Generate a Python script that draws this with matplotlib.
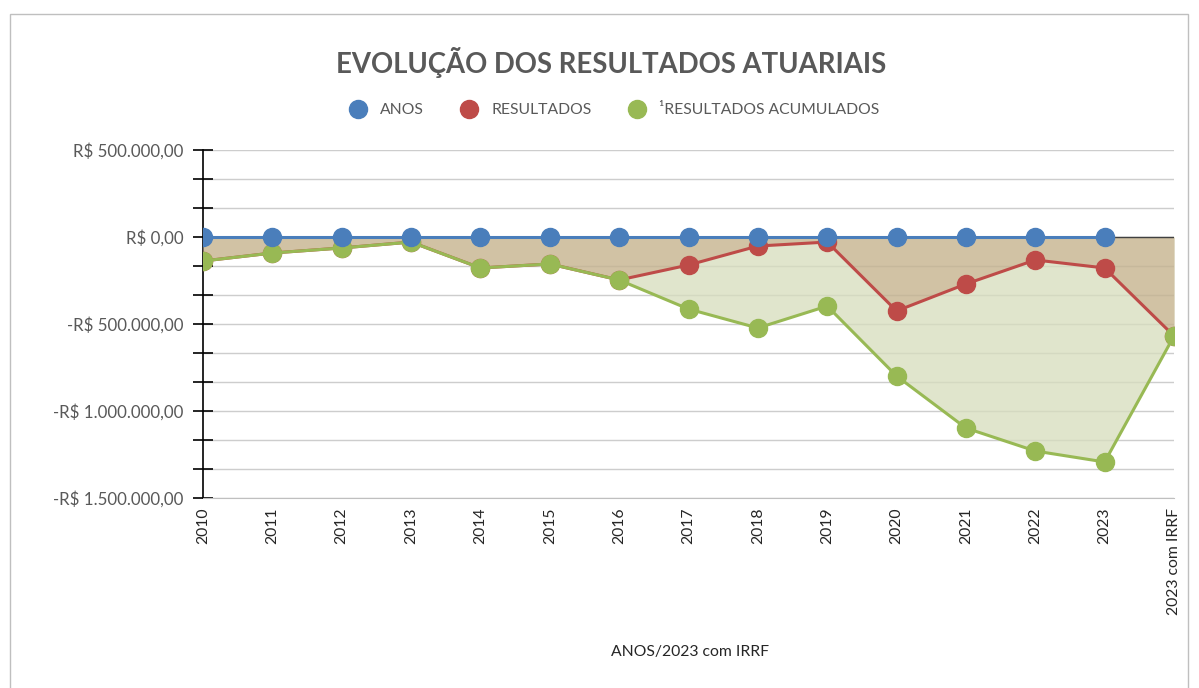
import matplotlib
matplotlib.use("Agg")
import matplotlib.pyplot as plt
from matplotlib.lines import Line2D
from matplotlib.patches import Rectangle
from matplotlib.ticker import FuncFormatter, MultipleLocator
import numpy as np

plt.rcParams['font.family'] = ['Lato', 'DejaVu Sans']

categories = ["2010", "2011", "2012", "2013", "2014", "2015", "2016", "2017",
              "2018", "2019", "2020", "2021", "2022", "2023", "2023 com IRRF"]
anos = [0, 0, 0, 0, 0, 0, 0, 0, 0, 0, 0, 0, 0, 0]
resultados = [-138000, -92000, -63000, -29000, -178000, -155000, -247000, -161000,
              -52000, -29000, -425000, -270000, -132000, -178000, -569000]
acumulados = [-138000, -92000, -63000, -29000, -178000, -155000, -247000, -414000,
              -523000, -397000, -799000, -1098000, -1230000, -1293000, -569000]
y_labels = {500000: "R$ 500.000,00", 0: "R$ 0,00", -500000: "-R$ 500.000,00",
            -1000000: "-R$ 1.000.000,00", -1500000: "-R$ 1.500.000,00"}

BLUE = "#4A7EBB"
RED = "#BE4B48"
GREEN = "#98B954"
TXT = "#595959"

fig = plt.figure(figsize=(11.99, 6.88), dpi=100)
ax = fig.add_axes([203/1199, 1-498/688, (1174-203)/1199, (498-150)/688])

x = np.arange(len(categories))
xa = np.arange(len(anos))

# areas
ax.fill_between(x, 0, acumulados, color="#E0E5CC", zorder=2, linewidth=0)
ax.fill_between(x, 0, resultados, color="#D1C2A4", zorder=3, linewidth=0)
ax.plot([x[0], x[-1]], [0, 0], color="#404040", lw=1.0, zorder=3.6)

ax.plot(x, resultados, color=RED, lw=2.2, marker='o', ms=13, mec=RED, zorder=4)
ax.plot(x, acumulados, color=GREEN, lw=2.2, marker='o', ms=13, mec=GREEN, zorder=5)
ax.plot(xa, anos, color=BLUE, lw=2.2, marker='o', ms=13, mec=BLUE, zorder=6)

ax.set_xlim(0, len(categories)-1)
ax.set_ylim(-1500000, 500000)

ax.yaxis.set_major_locator(MultipleLocator(500000))
ax.yaxis.set_minor_locator(MultipleLocator(500000/3))
ax.yaxis.set_major_formatter(FuncFormatter(lambda v, p: y_labels.get(int(round(v)), "")))
ax.grid(True, which='both', axis='y', color="#D9D9D9", lw=1.0, zorder=1)
ax.set_axisbelow(True)
# faint gridlines visible through the areas
for yv in np.arange(-1500000, 500001, 500000/3):
    ax.axhline(yv, color='black', alpha=0.05, lw=1.0, zorder=3.5)
ax.tick_params(axis='y', which='both', direction='inout', length=14, width=1.2,
               color='black', labelsize=12.2, labelcolor=TXT, pad=7)

ax.set_xticks(x)
ax.set_xticklabels(categories, rotation=90, fontsize=11.3, color="#262626")
ax.tick_params(axis='x', length=0, pad=7)

for s in ['top', 'right']:
    ax.spines[s].set_visible(False)
ax.spines['left'].set_color('black')
ax.spines['left'].set_linewidth(1.2)
ax.spines['bottom'].set_color("#BFBFBF")

fig.text(611/1199, 1-63/688, "EVOLUÇÃO DOS RESULTADOS ATUARIAIS", ha='center', va='center',
         fontsize=19.8, fontweight='bold', color=TXT)
fig.text(690/1199, 1-652/688, "ANOS/2023 com IRRF", ha='center', va='center',
         fontsize=11.3, color="#262626")

handles = [Line2D([], [], marker='o', ls='none', color=c, ms=13) for c in (BLUE, RED, GREEN)]
fig.legend(handles, ["ANOS", "RESULTADOS", "¹RESULTADOS ACUMULADOS"], loc='center',
           bbox_to_anchor=(614/1199, 1-110/688), ncol=3, frameon=False,
           fontsize=11.3, labelcolor=TXT, handletextpad=0.8, columnspacing=2.3,
           handlelength=1.2)

fig.add_artist(Rectangle((10/1199, -0.01), (1188-10)/1199, 1-14/688+0.01,
                         transform=fig.transFigure, fill=False, edgecolor="#BFBFBF", lw=1))

fig.savefig("out.png", dpi=100)
